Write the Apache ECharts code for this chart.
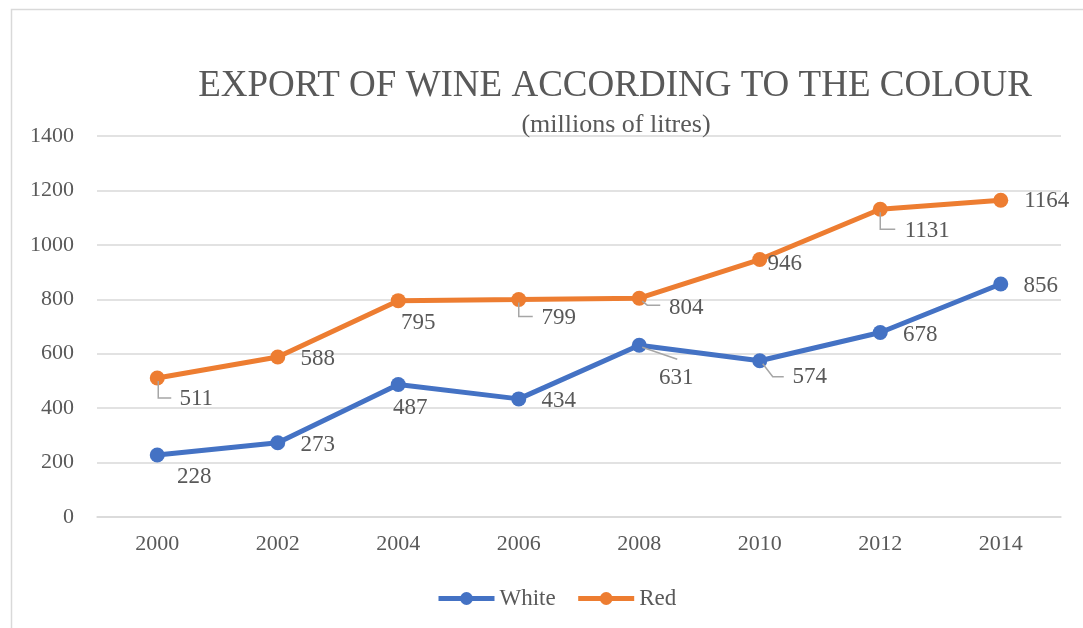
<!DOCTYPE html>
<html>
<head>
<meta charset="utf-8">
<script src="https://cdn.jsdelivr.net/npm/echarts@6/dist/echarts.min.js"></script>
<style>
html,body{margin:0;padding:0;background:#fff;}
#chart{width:1083px;height:628px;}
</style>
</head>
<body>
<div id="chart"></div>
<script>
// ---- data ----
var years = ['2000','2002','2004','2006','2008','2010','2012','2014'];
var whiteValues = [228, 273, 487, 434, 631, 574, 678, 856];
var redValues = [511, 588, 795, 799, 804, 946, 1131, 1164];
var yTicks = [0, 200, 400, 600, 800, 1000, 1200, 1400];
var titleText = 'EXPORT OF WINE ACCORDING TO THE COLOUR';
var subtitleText = '(millions of litres)';

// ---- styling (label placement relative to each point, px) ----
var labelOffsets = {
  White: [[37,22],[40,2],[12,23],[40,2],[37,33],[50,16],[40,2],[40,2]],
  Red:   [[39,21],[40,2],[20,22],[40,18],[47,10],[25,4],[47,22],[46,1]]
};
// leader lines (Excel style callouts), relative px offsets from the point
var leaders = [
  {series:'Red',   idx:0, path:[[1,3],[1,20],[14,20]]},
  {series:'Red',   idx:3, path:[[0,3],[0,17],[14,17]]},
  {series:'Red',   idx:4, path:[[3,3],[8,7],[21,7]]},
  {series:'Red',   idx:6, path:[[0,3],[0,20],[15,20]]},
  {series:'White', idx:4, path:[[3,2],[38,14]]},
  {series:'White', idx:5, path:[[3,3],[13,16],[24,16]]}
];
var seriesValues = {White: whiteValues, Red: redValues};
var seriesNames = ['White','Red'];

var FONT = 'Liberation Serif';
var TXT = '#595959';

var chart = echarts.init(document.getElementById('chart'), null, {renderer:'canvas'});

function lineSeries(name, values, color){
  return {
    name: name,
    type: 'line',
    data: values,
    symbol: 'circle',
    symbolSize: 15,
    showSymbol: true,
    itemStyle: {color: color},
    lineStyle: {color: color, width: 5},
    z: 3,
    label: {
      show: true,
      position: 'right',
      color: TXT,
      fontFamily: FONT,
      fontSize: 23
    },
    labelLayout: function(p){
      var off = labelOffsets[name][p.dataIndex];
      var cx = p.rect.x + p.rect.width/2;
      var cy = p.rect.y + p.rect.height/2;
      return {x: cx + off[0], y: cy + off[1], align: 'center', verticalAlign: 'middle'};
    }
  };
}

var leaderData = leaders.map(function(l, i){
  return [l.idx, seriesValues[l.series][l.idx], i];
});

var option = {
  backgroundColor: '#fff',
  animation: false,
  title: [
    {text: titleText, left: 610, top: 63, textAlign: 'center',
     textStyle: {fontFamily: FONT, fontSize: 37, fontWeight: 'normal', color: TXT}},
    {text: subtitleText, left: 611, top: 107, textAlign: 'center',
     textStyle: {fontFamily: FONT, fontSize: 26, fontWeight: 'normal', color: TXT}}
  ],
  graphic: [
    {type:'rect', left: 9, top: 7, z: -10,
     shape:{width: 1200, height: 1000},
     style:{fill: 'none', stroke:'#d9d9d9', lineWidth: 1.5}}
  ],
  legend: {
    data: seriesNames,
    left: 431, top: 582,
    itemWidth: 56, itemHeight: 16, itemGap: 20,
    lineStyle: {width: 5},
    textStyle: {fontFamily: FONT, fontSize: 23, color: TXT}
  },
  grid: {left: 97, right: 22, top: 136, bottom: 111, containLabel: false},
  xAxis: {
    type: 'category',
    data: years,
    boundaryGap: true,
    axisLine: {show: true, lineStyle: {color: '#d9d9d9', width: 1.5}},
    axisTick: {show: false},
    axisLabel: {fontFamily: FONT, fontSize: 22, color: TXT, margin: 16}
  },
  yAxis: {
    type: 'value',
    min: yTicks[0],
    max: yTicks[yTicks.length-1],
    interval: yTicks[1] - yTicks[0],
    axisLine: {show: false},
    axisTick: {show: false},
    splitLine: {lineStyle: {color: '#d9d9d9', width: 1.5}},
    axisLabel: {fontFamily: FONT, fontSize: 22, color: TXT, margin: 23,
      formatter: function(v){ return String(v); }}
  },
  series: [
    lineSeries('White', whiteValues, '#4472C4'),
    lineSeries('Red', redValues, '#ED7D31'),
    {
      type: 'custom',
      name: 'leaders',
      data: leaderData,
      z: 5,
      silent: true,
      renderItem: function(params, api){
        var pt = api.coord([api.value(0), api.value(1)]);
        var path = leaders[api.value(2)].path;
        return {
          type: 'polyline',
          shape: {points: path.map(function(d){ return [pt[0]+d[0], pt[1]+d[1]]; })},
          style: {stroke: '#a6a6a6', lineWidth: 1.5, fill: null}
        };
      }
    }
  ]
};
chart.setOption(option);
</script>
</body>
</html>
